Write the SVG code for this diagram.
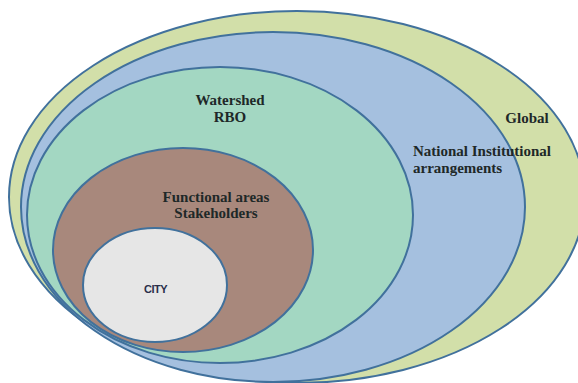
<svg xmlns="http://www.w3.org/2000/svg" width="578" height="383" viewBox="0 0 578 383">
  <style>
    .ring { stroke: #41719c; stroke-width: 2; }
    .lbl { font-family: "Liberation Serif", "DejaVu Serif", serif; font-weight: bold; font-size: 15px; fill: #1e2828; }
    .city { font-family: "Liberation Sans", Arial, sans-serif; font-weight: bold; font-size: 11px; fill: #2a2f4a; letter-spacing: -0.5px; }
  </style>
  <rect width="578" height="383" fill="#ffffff"/>

  <!-- nested scales, outermost first -->
  <g id="global">
    <ellipse class="ring" cx="297" cy="197" rx="288" ry="186" fill="#d2dfa9"/>
  </g>
  <g id="national">
    <ellipse class="ring" cx="273" cy="207" rx="252" ry="175" fill="#a5c0df"/>
  </g>
  <g id="watershed">
    <ellipse class="ring" cx="220" cy="215" rx="193" ry="148" fill="#a3d7c2"/>
  </g>
  <g id="functional">
    <ellipse class="ring" cx="183" cy="250" rx="130" ry="102" fill="#a8887c"/>
  </g>
  <g id="city">
    <ellipse class="ring" cx="155" cy="285" rx="72" ry="57" fill="#e6e6e6"/>
  </g>

  <!-- labels -->
  <g id="labels">
    <text class="lbl" x="230" y="105" text-anchor="middle">Watershed</text>
    <text class="lbl" x="230" y="122" text-anchor="middle">RBO</text>
    <text class="lbl" x="527" y="123" text-anchor="middle">Global</text>
    <text class="lbl" x="413" y="156">National Institutional</text>
    <text class="lbl" x="413" y="173">arrangements</text>
    <text class="lbl" x="216" y="202" text-anchor="middle">Functional areas</text>
    <text class="lbl" x="216" y="218" text-anchor="middle">Stakeholders</text>
    <text class="city" x="155.5" y="293" text-anchor="middle">CITY</text>
  </g>
</svg>
